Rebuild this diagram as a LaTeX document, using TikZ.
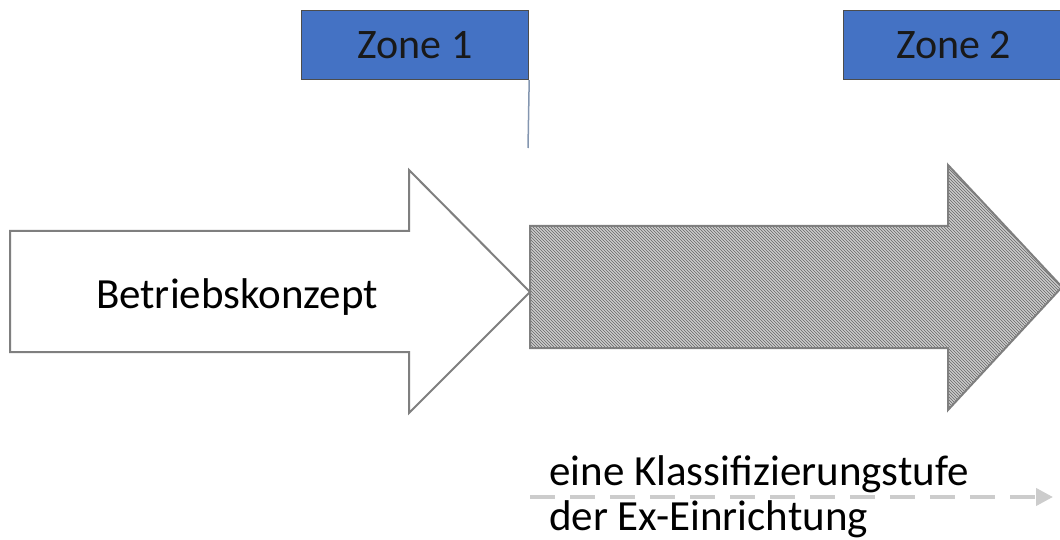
\documentclass[tikz,border=0pt]{standalone}
\usepackage{fontspec}
\setmainfont{Carlito}
\usetikzlibrary{patterns,arrows.meta}
\definecolor{zoneblue}{HTML}{4472C4}
\definecolor{edgegray}{HTML}{7F7F7F}
\definecolor{markline}{HTML}{8496B0}
\begin{document}
\begin{tikzpicture}[x=1pt,y=-1pt,
  zonebox/.style={draw=black!70,line width=1.2pt,fill=zoneblue,inner sep=0pt,
    font=\fontsize{42}{44}\selectfont,text=black!90},
  bigtext/.style={font=\fontsize{43}{48}\selectfont,text=black,inner sep=0pt},
  arrowedge/.style={draw=edgegray,line width=2pt,line join=miter}]
\useasboundingbox (0,0) rectangle (1060,540);
% white arrow
\draw[arrowedge,fill=white] (10,231) -- (409,231) -- (409,170) -- (530,292) -- (409,413) -- (409,352) -- (10,352) -- cycle;
\node[bigtext,anchor=base] (betrieb) at (237,308) {Betriebskonzept};
% gray hatched arrow
\fill[gray!40] (530,226) -- (948,226) -- (948,165) -- (1062,287) -- (948,410) -- (948,348) -- (530,348) -- cycle;
\fill[pattern=north west lines,pattern color=gray!80!black] (530,226) -- (948,226) -- (948,165) -- (1062,287) -- (948,410) -- (948,348) -- (530,348) -- cycle;
\draw[arrowedge] (530,226) -- (948,226) -- (948,165) -- (1062,287) -- (948,410) -- (948,348) -- (530,348) -- cycle;
% zones
\node[zonebox,minimum width=227pt,minimum height=69pt,anchor=north west] (zone1) at (301,10) {Zone 1};
\node[zonebox,minimum width=220pt,minimum height=69pt,anchor=north west] (zone2) at (843,10) {Zone 2};
\coordinate (mark) at (528,148);
\draw[color=markline,line width=1.5pt] (zone1.south east) -- (mark);
% bottom text
\node[bigtext,anchor=base west] (klass) at (549,485) {eine Klassifizierungstufe};
\node[bigtext,anchor=base west] (exein) at (549,530) {der Ex-Einrichtung};
\coordinate (ds) at (530,497);
\coordinate (de) at (1053,497);
\draw[gray!40,line width=4pt,dash pattern=on 25pt off 15pt,-{Triangle[length=17pt,width=17pt]}] (ds) -- (de);
\end{tikzpicture}
\end{document}
